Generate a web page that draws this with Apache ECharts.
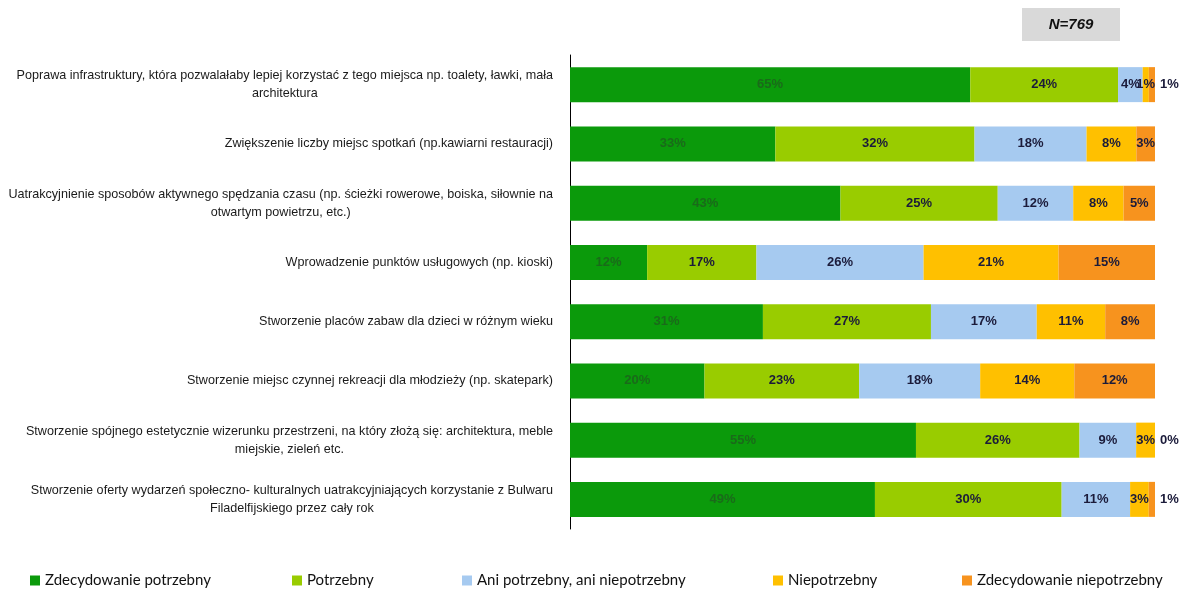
<!DOCTYPE html>
<html>
<head>
<meta charset="utf-8">
<script src="https://cdn.jsdelivr.net/npm/echarts@6/dist/echarts.min.js"></script>
<style>html,body{margin:0;padding:0;background:#fff}#c{width:1184px;height:591px}</style>
</head>
<body>
<div id="c"></div>
<script>
const categories = [
  "Poprawa infrastruktury, która pozwalałaby lepiej korzystać z tego miejsca np. toalety, ławki, mała\narchitektura",
  "Zwiększenie liczby miejsc spotkań (np.kawiarni restauracji)",
  "Uatrakcyjnienie sposobów aktywnego spędzania czasu (np. ścieżki rowerowe, boiska, siłownie na\notwartym powietrzu, etc.)",
  "Wprowadzenie punktów usługowych (np. kioski)",
  "Stworzenie placów zabaw dla dzieci w różnym wieku",
  "Stworzenie miejsc czynnej rekreacji dla młodzieży (np. skatepark)",
  "Stworzenie spójnego estetycznie wizerunku przestrzeni, na który złożą się: architektura, meble\nmiejskie, zieleń etc.",
  "Stworzenie oferty wydarzeń społeczno- kulturalnych uatrakcyjniających korzystanie z Bulwaru\nFiladelfijskiego przez cały rok"
];
const seriesNames = ["Zdecydowanie potrzebny", "Potrzebny", "Ani potrzebny, ani niepotrzebny", "Niepotrzebny", "Zdecydowanie niepotrzebny"];
const zdecydowaniePotrzebny = [65, 33, 43, 12, 31, 20, 55, 49];
const potrzebny = [24, 32, 25, 17, 27, 23, 26, 30];
const aniAni = [4, 18, 12, 26, 17, 18, 9, 11];
const niepotrzebny = [1, 8, 8, 21, 11, 14, 3, 3];
const zdecydowanieNiepotrzebny = [1, 3, 5, 15, 8, 12, 0, 1];
const sampleText = "N=769";

const raw = [zdecydowaniePotrzebny, potrzebny, aniAni, niepotrzebny, zdecydowanieNiepotrzebny];
const colors = ["#0b9a0b", "#99cc00", "#a6caf0", "#ffc000", "#f7931e"];
const rowSums = categories.map((_, i) => raw.reduce((s, a) => s + a[i], 0));

const series = raw.map((arr, si) => ({
  name: seriesNames[si],
  type: "bar",
  stack: "total",
  barWidth: 35,
  itemStyle: { color: colors[si] },
  data: arr.map((v, i) => {
    const d = { value: v / rowSums[i] * 100, raw: v };
    if (si === 4 && v < 3) {
      d.label = { position: "right", distance: 5 };
    }
    return d;
  }),
  label: {
    show: true,
    position: "inside",
    formatter: p => p.data.raw + "%",
    color: si === 0 ? "#1a6a1a" : "#1b1b3a",
    fontFamily: "Arial, Liberation Sans, sans-serif",
    fontWeight: "bold",
    fontSize: 13
  },
  emphasis: { disabled: true }
}));

const legendX = [30, 292, 462, 773, 962];
const legends = seriesNames.map((n, i) => ({
  data: [n],
  left: legendX[i],
  top: 573,
  padding: 0,
  itemWidth: 10,
  itemHeight: 10,
  icon: "rect",
  textStyle: { fontFamily: "Lato, sans-serif", fontSize: 15, color: "#111" },
  selectedMode: false
}));

const chart = echarts.init(document.getElementById("c"));
chart.setOption({
  animation: false,
  grid: { left: 570, right: 29, top: 55, bottom: 62, containLabel: false, outerBoundsMode: "none" },
  xAxis: { type: "value", min: 0, max: 100, show: false },
  yAxis: {
    type: "category",
    inverse: true,
    data: categories,
    axisLine: { show: true, lineStyle: { color: "#000", width: 1 } },
    axisTick: { show: false },
    axisLabel: {
      margin: 17,
      align: "right",
      formatter: v => v.split("\n").map(l => "{c|" + l + "}").join("\n"),
      rich: {
        c: {
          align: "center",
          fontFamily: "Liberation Sans, Arial, sans-serif",
          fontSize: 12.6,
          color: "#1a1a1a",
          lineHeight: 18
        }
      }
    }
  },
  legend: legends,
  series: series,
  graphic: [
    {
      type: "group",
      left: 1022,
      top: 8,
      children: [
        { type: "rect", shape: { x: 0, y: 0, width: 98, height: 33 }, style: { fill: "#d9d9d9" } },
        { type: "text", x: 49, y: 17, style: { text: sampleText, fill: "#111", font: "italic bold 15px Arial, sans-serif", align: "center", verticalAlign: "middle" } }
      ]
    }
  ]
});
</script>
</body>
</html>
